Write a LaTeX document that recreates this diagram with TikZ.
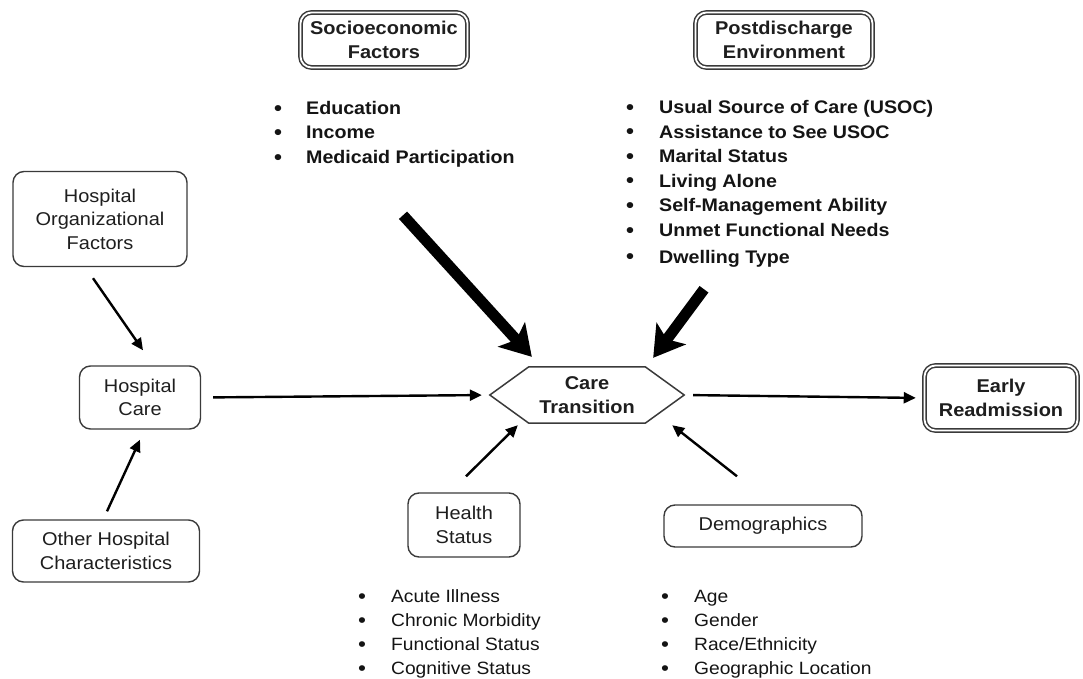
\documentclass[tikz,border=0pt]{standalone}
\usepackage{fontspec}
\setmainfont{Liberation Sans}[FakeStretch=1.08]
\usetikzlibrary{arrows.meta,calc}

\definecolor{linegray}{HTML}{3A3A3A}
\definecolor{textgray}{HTML}{1E1E1E}

\newcommand{\boxfont}{\fontsize{18.5}{23.5}\selectfont}
\newcommand{\boxbold}{\fontsize{18.5}{23.5}\selectfont\bfseries}
\newcommand{\listfont}[2]{\fontsize{#1}{#2}\selectfont}
\newcommand{\blt}{\raisebox{-0.6pt}{\fontsize{21}{0}\selectfont\textbullet}}

\tikzset{
  box/.style={draw=linegray, line width=1.4pt, rounded corners=11pt, align=center,
              text=textgray, inner sep=0pt, font=\boxfont},
  dbox/.style={box, double=white, double distance=1.8pt, line width=1.5pt, font=\boxbold},
  hexline/.style={draw=linegray, line width=1.5pt, line join=miter},
  thinarrow/.style={draw=black, line width=2.4pt, -{Triangle[length=12pt,width=11pt]}},
  thickarrow/.style={draw=black, line width=11pt, -{Stealth[length=30pt,width=36pt,inset=7pt]}},
  itemlist/.style={anchor=base west, inner sep=0pt, text=black!92, align=left},
}

\begin{document}
\begin{tikzpicture}[x=1pt, y=-1pt]
  \useasboundingbox (0,0) rectangle (1083,679);

  % main boxes
  \node[dbox, minimum width=167pt, minimum height=55pt] (socio) at (384,40) {Socioeconomic\\Factors};
  \node[dbox, minimum width=177pt, minimum height=55pt] (post) at (784,40) {Postdischarge\\Environment};
  \node[box, minimum width=174pt, minimum height=95pt] (hof) at (100,219) {Hospital\\Organizational\\Factors};
  \node[box, minimum width=121pt, minimum height=63pt] (hc) at (140,397.5) {Hospital\\Care};
  \node[box, minimum width=187pt, minimum height=62pt] (ohc) at (106,551) {Other Hospital\\Characteristics};
  \node[box, minimum width=112pt, minimum height=64pt] (hs) at (464,525) {Health\\Status};
  \node[box, minimum width=198pt, minimum height=42pt] (demo) at (763,526) {Demographics};
  \node[dbox, minimum width=153pt, minimum height=65pt] (er) at (1001,398) {Early\\Readmission};

  % care transition hexagon
  \node[inner sep=0pt, minimum width=116pt, minimum height=56pt, align=center,
        font=\boxbold, text=textgray] (ct) at (587,395) {Care\\Transition};
  \coordinate (ctL) at ($(ct.west)+(-39,0)$);
  \coordinate (ctR) at ($(ct.east)+(39,0)$);
  \draw[hexline] (ctL) -- (ct.north west) -- (ct.north east) -- (ctR)
                 -- (ct.south east) -- (ct.south west) -- cycle;

  % item lists
  \node[itemlist, font=\listfont{18.2}{24.5}\bfseries] (sociolist) at (274,114.5) {%
    \begin{tabular}[t]{@{}l@{\hspace{24pt}}l@{}}
      \blt & Education\\
      \blt & Income\\
      \blt & Medicaid Participation
    \end{tabular}};
  \node[itemlist, font=\listfont{18.2}{24.6}\bfseries] (postlist) at (626,113.5) {%
    \begin{tabular}[t]{@{}l@{\hspace{25pt}}l@{}}
      \blt & Usual Source of Care (USOC)\\
      \blt & Assistance to See USOC\\
      \blt & Marital Status\\
      \blt & Living Alone\\
      \blt & Self-Management Ability\\
      \blt & Unmet Functional Needs\\[2pt]
      \blt & Dwelling Type
    \end{tabular}};
  \node[itemlist, font=\listfont{17.8}{24}] (hslist) at (358,602.5) {%
    \begin{tabular}[t]{@{}l@{\hspace{25pt}}l@{}}
      \blt & Acute Illness\\
      \blt & Chronic Morbidity\\
      \blt & Functional Status\\
      \blt & Cognitive Status
    \end{tabular}};
  \node[itemlist, font=\listfont{17.8}{24}] (demolist) at (661,602.5) {%
    \begin{tabular}[t]{@{}l@{\hspace{25pt}}l@{}}
      \blt & Age\\
      \blt & Gender\\
      \blt & Race/Ethnicity\\
      \blt & Geographic Location
    \end{tabular}};

  % connectors
  \draw[thinarrow] ($(hof.south)+(-7,11)$) -- ($(hc.north)+(3,-15)$);
  \draw[thinarrow] ($(ohc.north)+(1,-8)$) -- ($(hc.south)+(0,10)$);
  \draw[thinarrow, shorten <=12pt, shorten >=8pt] (hc.east) -- (ctL);
  \draw[thinarrow, shorten <=9pt, shorten >=8pt] (ctR) -- (er.west);
  \draw[thinarrow] ($(hs.north)+(2,-16)$) -- ($(ct.south west)+(-11,2)$);
  \draw[thinarrow] ($(demo.north)+(-26,-28)$) -- ($(ct.south east)+(27,2)$);
  \draw[thickarrow] ($(socio.south)+(19,147)$) -- ($(ct.north west)+(3,-10)$);
  \draw[thickarrow] ($(post.south)+(-80,221)$) -- ($(ct.north east)+(8,-9)$);
\end{tikzpicture}
\end{document}
